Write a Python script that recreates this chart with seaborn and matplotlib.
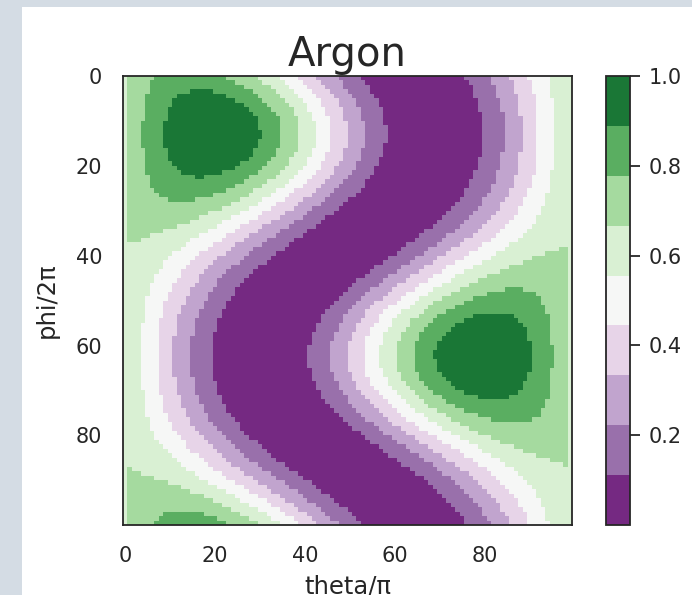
import numpy as np
import matplotlib
matplotlib.use("Agg")
import matplotlib.pyplot as plt
from matplotlib.colors import ListedColormap
from matplotlib.patches import Rectangle
import seaborn as sns

# Angular grid: polar angle theta over [0, pi], azimuth phi over [0, 2*pi]
n_theta = 100
n_phi = 100
theta = np.linspace(0.0, np.pi, n_theta)
phi = np.linspace(0.0, 2.0 * np.pi, n_phi)

# Symmetry axis of the angular distribution (lattice direction [1 1 2])
axis_direction = [1.0, 1.0, 2.0]

n_levels = 9
tick_step = 20
color_max = 1.0
title = "Argon"
xlabel = "theta/π"
ylabel = "phi/2π"

# Angular intensity: squared projection of the unit vector onto the axis
u = np.asarray(axis_direction) / np.linalg.norm(axis_direction)
TH, PH = np.meshgrid(theta, phi)          # rows: phi, columns: theta
proj = (u[0] * np.sin(TH) * np.cos(PH)
        + u[1] * np.sin(TH) * np.sin(PH)
        + u[2] * np.cos(TH))
intensity = proj ** 2

sns.set_style("white")
plt.rcParams["font.family"] = ["DejaVu Sans"]
text_color = "#262626"

W, H = 692, 595
fig = plt.figure(figsize=(W / 100, H / 100), dpi=100)
fig.patch.set_facecolor("#d4dce4")
fig.patches.append(Rectangle((22 / W, 0), 1 - 22 / W, (H - 7) / H,
                             transform=fig.transFigure, facecolor="white",
                             edgecolor="none", zorder=-10))

ax = fig.add_axes([123 / W, (H - 525) / H, 449 / W, 449 / H])
cax = fig.add_axes([606 / W, (H - 525) / H, 24 / W, 449 / H])

cmap = ListedColormap(sns.color_palette("PRGn", n_levels))
sns.heatmap(intensity, ax=ax, cbar_ax=cax, cmap=cmap,
            vmin=float(intensity.min()), vmax=color_max,
            xticklabels=tick_step, yticklabels=tick_step)

for spine in ax.spines.values():
    spine.set_visible(True)
    spine.set_color(text_color)
    spine.set_linewidth(1.3)
ax.tick_params(length=0, pad=15, labelsize=15, colors=text_color)
plt.setp(ax.get_yticklabels(), rotation=0)
plt.setp(ax.get_xticklabels(), rotation=0)
ax.set_xlabel(xlabel, fontsize=17.5, color=text_color, labelpad=6)
ax.set_ylabel(ylabel, fontsize=17.5, color=text_color, labelpad=12)
ax.set_title(title, fontsize=29, color=text_color, pad=7)

cbar = ax.collections[0].colorbar
cbar.outline.set_visible(True)
cbar.outline.set_edgecolor(text_color)
cbar.outline.set_linewidth(1.3)
cax.tick_params(length=7.5, width=1.3, pad=6, labelsize=15,
                colors=text_color, right=True)

fig.savefig("out.png", dpi=100, facecolor=fig.get_facecolor())
